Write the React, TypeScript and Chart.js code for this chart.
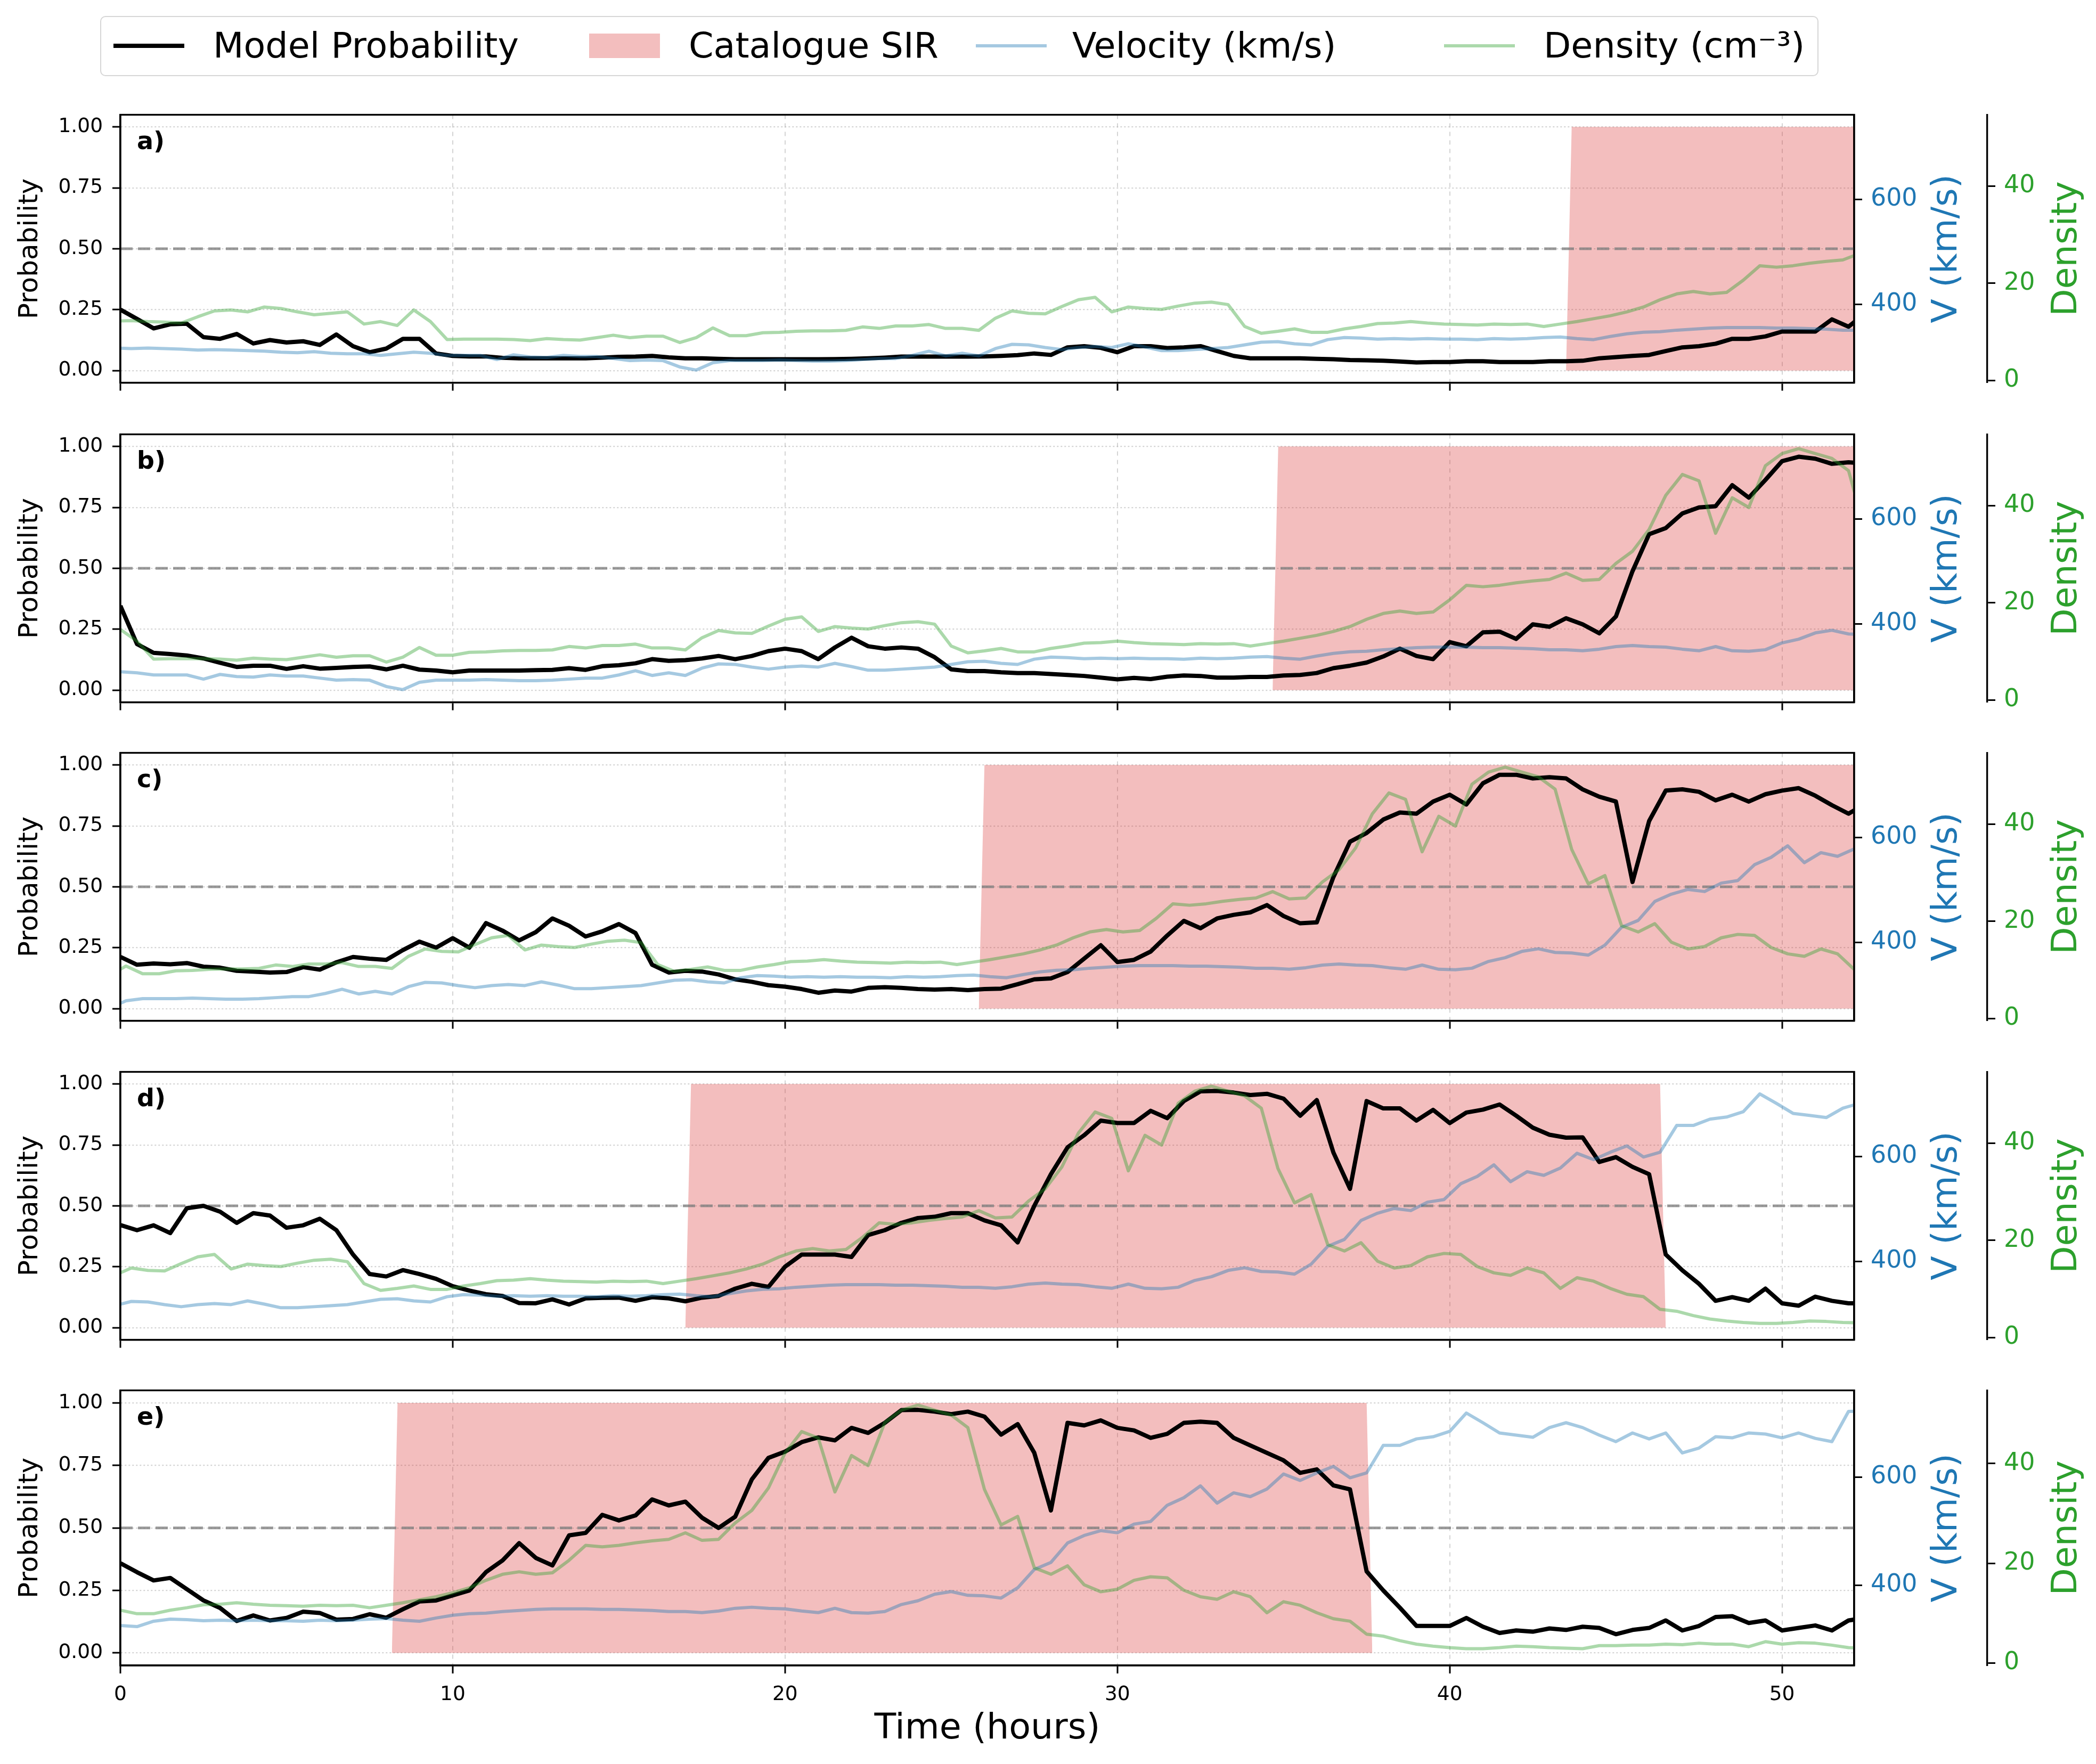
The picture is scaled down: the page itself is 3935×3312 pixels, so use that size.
import React, { useEffect, useRef } from "react";
import { Chart, registerables } from "chart.js";

Chart.register(...registerables);

const FONT = '"DejaVu Sans", "Liberation Sans", sans-serif';

// ---------------- data ----------------
const PANEL_LABELS = ["a)", "b)", "c)", "d)", "e)"];
// how many hours earlier (relative to panel e) each panel's window begins
const PANEL_SHIFT_HOURS = [35.33, 26.5, 17.67, 8.83, 0];
const X_MAX_HOURS = 52.17;
const X_TICKS = [0, 10, 20, 30, 40, 50];
const PROB_TICKS = [0, 0.25, 0.5, 0.75, 1];
const VEL_TICKS = [400, 600];
const DENS_TICKS = [0, 20, 40];
const THRESHOLD = 0.5;
const PROB_RANGE = [-0.05, 1.05];
const VEL_RANGE = [251, 761];
const DENS_RANGE = [-0.47, 54.66];

// model probability, one value every 0.5 h from t = 0 h
const PROB_STEP_HOURS = 0.5;
const PROB_A = [
  0.25, 0.212, 0.173, 0.19, 0.192, 0.137, 0.13, 0.15, 0.111, 0.125,
  0.115, 0.12, 0.105, 0.148, 0.1, 0.075, 0.09, 0.13, 0.13, 0.07,
  0.06, 0.058, 0.058, 0.052, 0.05, 0.05, 0.05, 0.05, 0.05, 0.053,
  0.056, 0.057, 0.06, 0.054, 0.05, 0.05, 0.048, 0.046, 0.046, 0.046,
  0.046, 0.046, 0.046, 0.047, 0.048, 0.05, 0.053, 0.057, 0.057, 0.057,
  0.057, 0.057, 0.058, 0.06, 0.063, 0.07, 0.064, 0.095, 0.1, 0.093,
  0.075, 0.1, 0.1, 0.092, 0.095, 0.1, 0.08, 0.06, 0.05, 0.05,
  0.05, 0.05, 0.048, 0.046, 0.043, 0.042, 0.04, 0.037, 0.033, 0.035,
  0.035, 0.038, 0.038, 0.035, 0.035, 0.035, 0.038, 0.038, 0.04, 0.05,
  0.055, 0.06, 0.064, 0.08, 0.095, 0.1, 0.11, 0.13, 0.13, 0.14,
  0.16, 0.16, 0.16, 0.21, 0.18, 0.235,
];
const PROB_B = [
  0.346, 0.189, 0.153, 0.148, 0.142, 0.13, 0.112, 0.095, 0.1, 0.1,
  0.087, 0.098, 0.088, 0.091, 0.095, 0.097, 0.085, 0.1, 0.084, 0.08,
  0.073, 0.08, 0.08, 0.08, 0.08, 0.082, 0.083, 0.09, 0.083, 0.098,
  0.102, 0.11, 0.127, 0.12, 0.123, 0.13, 0.14, 0.127, 0.14, 0.16,
  0.17, 0.16, 0.127, 0.175, 0.215, 0.18, 0.17, 0.175, 0.17, 0.135,
  0.085, 0.078, 0.078, 0.073, 0.07, 0.07, 0.066, 0.062, 0.058, 0.051,
  0.044, 0.05, 0.045, 0.055, 0.06, 0.058, 0.051, 0.051, 0.054, 0.054,
  0.06, 0.062, 0.07, 0.09, 0.1, 0.113, 0.138, 0.17, 0.14, 0.127,
  0.197, 0.18, 0.237, 0.24, 0.21, 0.27, 0.26, 0.295, 0.27, 0.233,
  0.302, 0.488, 0.64, 0.665, 0.725, 0.75, 0.755, 0.841, 0.79, 0.863,
  0.94, 0.958, 0.95, 0.929, 0.935, 0.93,
];
const PROB_C = [
  0.212, 0.18, 0.185, 0.182, 0.187, 0.172, 0.168, 0.155, 0.152, 0.148,
  0.15, 0.17, 0.16, 0.19, 0.212, 0.205, 0.2, 0.24, 0.275, 0.25,
  0.289, 0.25, 0.351, 0.32, 0.28, 0.314, 0.37, 0.34, 0.296, 0.317,
  0.347, 0.31, 0.18, 0.148, 0.155, 0.152, 0.14, 0.12, 0.11, 0.096,
  0.09, 0.08, 0.065, 0.074, 0.07, 0.085, 0.088, 0.085, 0.08, 0.078,
  0.08, 0.076, 0.08, 0.082, 0.1, 0.12, 0.124, 0.15, 0.205, 0.26,
  0.191, 0.2, 0.234, 0.3, 0.36, 0.33, 0.37, 0.385, 0.395, 0.425,
  0.38, 0.35, 0.354, 0.54, 0.685, 0.721, 0.776, 0.805, 0.8, 0.85,
  0.878, 0.838, 0.925, 0.96, 0.96, 0.945, 0.95, 0.945, 0.9, 0.87,
  0.85, 0.52, 0.77, 0.895, 0.9, 0.89, 0.855, 0.878, 0.85, 0.88,
  0.895, 0.905, 0.874, 0.835, 0.8, 0.84,
];
const PROB_D = [
  0.421, 0.4, 0.42, 0.388, 0.49, 0.5, 0.476, 0.43, 0.47, 0.46,
  0.41, 0.42, 0.447, 0.4, 0.3, 0.22, 0.21, 0.236, 0.22, 0.2,
  0.17, 0.152, 0.137, 0.13, 0.101, 0.1, 0.116, 0.095, 0.12, 0.122,
  0.123, 0.11, 0.125, 0.12, 0.108, 0.123, 0.13, 0.16, 0.18, 0.167,
  0.25, 0.3, 0.3, 0.3, 0.29, 0.38, 0.4, 0.43, 0.45, 0.455,
  0.47, 0.47, 0.44, 0.42, 0.35, 0.5, 0.63, 0.74, 0.79, 0.85,
  0.84, 0.84, 0.89, 0.86, 0.93, 0.97, 0.972, 0.965, 0.955, 0.96,
  0.94, 0.87, 0.934, 0.719, 0.57, 0.93, 0.9, 0.9, 0.85, 0.894,
  0.84, 0.883, 0.895, 0.916, 0.87, 0.821, 0.792, 0.78, 0.781, 0.68,
  0.7, 0.66, 0.63, 0.3, 0.235, 0.18, 0.11, 0.125, 0.11, 0.16,
  0.1, 0.09, 0.127, 0.11, 0.1, 0.1,
];
const PROB_E = [
  0.359, 0.323, 0.29, 0.3, 0.255, 0.21, 0.18, 0.128, 0.15, 0.13,
  0.14, 0.165, 0.16, 0.133, 0.136, 0.155, 0.141, 0.175, 0.206, 0.21,
  0.23, 0.25, 0.323, 0.37, 0.439, 0.38, 0.35, 0.47, 0.48, 0.552,
  0.53, 0.55, 0.614, 0.59, 0.605, 0.541, 0.5, 0.545, 0.694, 0.78,
  0.805, 0.843, 0.862, 0.85, 0.9, 0.88, 0.92, 0.971, 0.972, 0.965,
  0.955, 0.965, 0.945, 0.873, 0.915, 0.8, 0.57, 0.92, 0.91, 0.93,
  0.9, 0.89, 0.86, 0.876, 0.92, 0.925, 0.92, 0.86, 0.83, 0.8,
  0.77, 0.72, 0.734, 0.67, 0.654, 0.326, 0.25, 0.181, 0.108, 0.108,
  0.108, 0.14, 0.105, 0.08, 0.09, 0.085, 0.098, 0.092, 0.105, 0.1,
  0.075, 0.092, 0.1, 0.13, 0.09, 0.108, 0.144, 0.147, 0.12, 0.13,
  0.09, 0.1, 0.11, 0.09, 0.13, 0.14,
];
const PROBS = [PROB_A, PROB_B, PROB_C, PROB_D, PROB_E];

// solar wind, one value every 0.5 h, in panel-e time starting at -35.5 h
const SW_START_HOURS = -35.5;
const SW_STEP_HOURS = 0.5;
const VELOCITY = [
  317, 316, 317, 316, 315, 313, 314, 313, 312, 311, 309, 308, 310, 307, 306, 306, 303, 306,
  309, 307, 303, 303, 303, 295, 304, 300, 299, 303, 301, 301, 297, 293, 294, 293, 281, 275,
  289, 293, 293, 293, 294, 293, 292, 292, 293, 295, 297, 297, 303, 311, 302, 307, 302, 316,
  324, 323, 318, 314, 318, 320, 318, 325, 319, 312, 312, 314, 316, 318, 323, 328, 329,
  325, 323, 333, 337, 336, 334, 335, 334, 335, 334, 334, 333, 335, 334, 335, 337, 338, 335,
  333, 339, 344, 347, 348, 351, 353, 355, 356, 356, 356, 355, 355, 354, 353, 351, 351, 349, 352,
  357, 359, 357, 356, 352, 349, 357, 349, 348, 351, 364, 371, 383, 388, 381, 380, 376, 395,
  429, 442, 478, 492, 501, 497, 513, 518, 548, 562, 584, 552, 571, 564, 578, 606, 594, 608,
  620, 599, 608, 659, 659, 671, 675, 685, 719, 701, 682, 678, 674, 692, 701, 692, 678, 666,
  682, 671, 682, 645, 654, 675, 673, 682, 680, 673, 682, 672, 666, 722, 723,
];
const DENSITY = [
  12.2, 12.3, 12.1, 12.0, 11.8, 13.1, 14.3, 14.5, 14.1, 15.1, 14.8, 14.1, 13.5, 13.8, 14.1, 11.6, 12.1, 11.3,
  14.5, 12.1, 8.4, 8.5, 8.5, 8.5, 8.4, 8.2, 8.6, 8.4, 8.3, 8.8, 9.3, 8.8, 9.1, 9.1, 7.8, 8.8,
  10.8, 9.2, 9.2, 9.8, 9.9, 10.1, 10.2, 10.2, 10.3, 11.0, 10.7, 11.2, 11.2, 11.5, 10.7, 10.7, 10.3, 12.8,
  14.3, 13.8, 13.7, 15.2, 16.6, 17.1, 14.1, 15.1, 14.8, 14.6, 15.3, 15.9, 16.1, 15.6, 11.1, 9.7, 10.1,
  10.6, 9.9, 9.9, 10.6, 11.1, 11.7, 11.8, 12.1, 11.8, 11.6, 11.5, 11.4, 11.6, 11.5, 11.6, 11.1, 11.6, 12.1,
  12.7, 13.3, 14.1, 15.1, 16.6, 17.8, 18.3, 17.8, 18.1, 20.6, 23.6, 23.3, 23.6, 24.1, 24.5, 24.8, 26.1, 24.6, 24.8,
  28.1, 30.6, 35.1, 42.1, 46.4, 45.1, 34.3, 41.6, 39.6, 48.2, 50.7, 51.7, 50.7, 49.7, 47.2, 34.8, 27.7, 29.4,
  19.1, 17.8, 19.5, 15.7, 14.3, 14.8, 16.6, 17.3, 17.1, 14.6, 13.3, 12.8, 14.3, 13.3, 10.1, 12.3, 11.6, 10.1,
  8.9, 8.4, 5.8, 5.4, 4.5, 3.8, 3.4, 3.1, 2.9, 2.9, 3.1, 3.4, 3.3, 3.1, 3.0, 2.9, 3.5, 3.5,
  3.6, 3.6, 3.8, 3.7, 4.0, 3.8, 3.8, 3.3, 4.3, 3.8, 4.1, 4.0, 3.6, 3.1, 3.0,
];

// catalogue SIR interval per panel (hours); 60 = continues past the window
const SIR_START = [43.5, 34.67, 25.83, 17.0, 8.17];
const SIR_END = [60, 60, 60, 46.33, 37.5];
const SIR_RAMP_HOURS = 0.17;

// ---------------- layout ----------------
const FIG_W = 3935;
const FIG_H = 3312;
const PANEL_TOPS = [212, 812, 1410, 2009, 2607];
const PLOT_H = 520;
const PLOT_LEFT = 226;
const PAD_TOP = 40;
const V_AXIS_W = 250;
const D_AXIS_W = FIG_W - PLOT_LEFT - 3255 - V_AXIS_W; // plot right at 3481

const BLUE = "#1f77b4";
const GREEN = "#2ca02c";
const BLUE_LINE = "rgba(31,119,180,0.4)";
const GREEN_LINE = "rgba(44,160,44,0.4)";
const SIR_FILL = "rgba(214,39,40,0.3)";
const GRID = "rgba(176,176,176,0.55)";

function Panel({ index }: { index: number }) {
  const ref = useRef<HTMLCanvasElement>(null);
  const isBottom = index === PANEL_LABELS.length - 1;
  const bottomH = isBottom ? FIG_H - (PANEL_TOPS[index] + PLOT_H) : 30;
  const canvasH = PAD_TOP + PLOT_H + bottomH;

  useEffect(() => {
    const canvas = ref.current;
    if (!canvas) return;
    const shift = PANEL_SHIFT_HOURS[index];
    const swPts = (arr: number[]) =>
      arr
        .map((v, i) => ({ x: SW_START_HOURS + i * SW_STEP_HOURS + shift, y: v }))
        .filter((p) => p.x >= -1 && p.x <= X_MAX_HOURS + 1);
    const probPts = PROBS[index].map((v, i) => ({ x: i * PROB_STEP_HOURS, y: v }));
    const s0 = SIR_START[index];
    const s1 = SIR_END[index];
    const sirPts = [
      { x: s0, y: 0 },
      { x: s0 + SIR_RAMP_HOURS, y: 1 },
      { x: s1, y: 1 },
      { x: s1 + SIR_RAMP_HOURS, y: 0 },
    ];

    const textPlugin = {
      id: "panelText" + index,
      afterDraw(chart: any) {
        const { ctx, chartArea: a } = chart;
        ctx.save();
        ctx.strokeStyle = "#000";
        ctx.lineWidth = 3.3;
        ctx.strokeRect(a.left, a.top, a.right - a.left, a.bottom - a.top);
        ctx.fillStyle = "#000";
        ctx.font = `bold 46px ${FONT}`;
        ctx.textAlign = "left";
        ctx.textBaseline = "alphabetic";
        ctx.fillText(PANEL_LABELS[index], a.left + 31, a.top + 65);
        const midY = (a.top + a.bottom) / 2;
        const rot = (text: string, x: number, color: string, size: number) => {
          ctx.save();
          ctx.translate(x, midY);
          ctx.rotate(-Math.PI / 2);
          ctx.font = `${size}px ${FONT}`;
          ctx.fillStyle = color;
          ctx.textAlign = "center";
          ctx.textBaseline = "alphabetic";
          ctx.fillText(text, 0, 0);
          ctx.restore();
        };
        rot("Probability", 70, "#000", 50);
        rot("V (km/s)", 3673, BLUE, 66.7);
        rot("Density", 3898, GREEN, 66.7);
        if (isBottom) {
          ctx.font = `66.7px ${FONT}`;
          ctx.fillStyle = "#000";
          ctx.textAlign = "center";
          ctx.fillText("Time (hours)", (a.left + a.right) / 2, a.bottom + 137);
        }
        ctx.restore();
      },
    };

    const tickFont = { family: FONT, size: 37.5 };
    const rightFont = { family: FONT, size: 45.8 };

    const chart = new Chart(canvas, {
      type: "line",
      data: {
        datasets: [
          {
            label: "Density (cm⁻³)",
            data: swPts(DENSITY),
            yAxisID: "yD",
            borderColor: GREEN_LINE,
            borderWidth: 6,
            pointRadius: 0,
            tension: 0,
            borderJoinStyle: "round",
            clip: 0,
            order: 0,
          },
          {
            label: "Velocity (km/s)",
            data: swPts(VELOCITY),
            yAxisID: "yV",
            borderColor: BLUE_LINE,
            borderWidth: 6,
            pointRadius: 0,
            tension: 0,
            borderJoinStyle: "round",
            clip: 0,
            order: 1,
          },
          {
            label: "Model Probability",
            data: probPts,
            yAxisID: "y",
            borderColor: "#000",
            borderWidth: 8,
            pointRadius: 0,
            tension: 0,
            borderJoinStyle: "round",
            clip: 0,
            order: 2,
          },
          {
            label: "threshold",
            data: [
              { x: 0, y: THRESHOLD },
              { x: X_MAX_HOURS, y: THRESHOLD },
            ],
            yAxisID: "y",
            borderColor: "rgba(128,128,128,0.8)",
            borderWidth: 5,
            borderDash: [23, 10],
            pointRadius: 0,
            clip: 0,
            order: 3,
          },
          {
            label: "Catalogue SIR",
            data: sirPts,
            yAxisID: "y",
            borderWidth: 0,
            borderColor: "rgba(0,0,0,0)",
            backgroundColor: SIR_FILL,
            fill: "origin",
            pointRadius: 0,
            tension: 0,
            clip: 0,
            order: 4,
          },
        ],
      },
      options: {
        responsive: false,
        animation: false,
        devicePixelRatio: 1,
        events: [],
        layout: { padding: { top: PAD_TOP, left: 0, right: 0, bottom: 0 } },
        plugins: { legend: { display: false }, tooltip: { enabled: false } },
        scales: {
          x: {
            type: "linear",
            position: "bottom",
            min: 0,
            max: X_MAX_HOURS,
            afterBuildTicks: (s: any) => {
              s.ticks = X_TICKS.map((v) => ({ value: v }));
            },
            afterFit: (s: any) => {
              s.height = bottomH;
            },
            ticks: {
              autoSkip: false,
              maxRotation: 0,
              font: tickFont,
              color: "#000",
              padding: 18,
              callback: (v: any) => (isBottom ? String(v) : ""),
            },
            grid: {
              color: GRID,
              lineWidth: 2,
              tickLength: 15,
              tickColor: "#000",
              tickWidth: 3,
            },
            border: { display: true, color: "#000", width: 3.3, dash: [8, 8] },
          },
          y: {
            type: "linear",
            position: "left",
            min: PROB_RANGE[0],
            max: PROB_RANGE[1],
            afterBuildTicks: (s: any) => {
              s.ticks = PROB_TICKS.map((v) => ({ value: v }));
            },
            afterFit: (s: any) => {
              s.width = PLOT_LEFT;
            },
            ticks: {
              font: tickFont,
              color: "#000",
              padding: 18,
              callback: (v: any) => Number(v).toFixed(2),
            },
            grid: {
              color: GRID,
              lineWidth: 2.2,
              tickLength: 15,
              tickColor: "#000",
              tickWidth: 3,
            },
            border: { display: true, color: "#000", width: 3.3, dash: [3, 4] },
          },
          yV: {
            type: "linear",
            position: "right",
            min: VEL_RANGE[0],
            max: VEL_RANGE[1],
            afterBuildTicks: (s: any) => {
              s.ticks = VEL_TICKS.map((v) => ({ value: v }));
            },
            afterFit: (s: any) => {
              s.width = V_AXIS_W;
            },
            ticks: { font: rightFont, color: BLUE, padding: 16 },
            grid: {
              drawOnChartArea: false,
              tickLength: 15,
              tickColor: "#000",
              tickWidth: 3,
            },
            border: { display: true, color: "#000", width: 3.3 },
          },
          yD: {
            type: "linear",
            position: "right",
            min: DENS_RANGE[0],
            max: DENS_RANGE[1],
            afterBuildTicks: (s: any) => {
              s.ticks = DENS_TICKS.map((v) => ({ value: v }));
            },
            afterFit: (s: any) => {
              s.width = D_AXIS_W;
            },
            ticks: { font: rightFont, color: GREEN, padding: 16 },
            grid: {
              drawOnChartArea: false,
              tickLength: 15,
              tickColor: "#000",
              tickWidth: 3,
            },
            border: { display: true, color: "#000", width: 3.3 },
          },
        },
      } as any,
      plugins: [textPlugin],
    });
    return () => chart.destroy();
  }, [index, isBottom, bottomH]);

  return (
    <canvas
      ref={ref}
      width={FIG_W}
      height={canvasH}
      style={{
        position: "absolute",
        left: 0,
        top: PANEL_TOPS[index] - PAD_TOP,
        width: FIG_W,
        height: canvasH,
        display: "block",
      }}
    />
  );
}

const LEGEND_ITEMS = [
  { label: "Model Probability", kind: "line", color: "#000", width: 8, x: 213, tx: 400 },
  { label: "Catalogue SIR", kind: "patch", color: SIR_FILL, width: 0, x: 1106, tx: 1293 },
  { label: "Velocity (km/s)", kind: "line", color: BLUE_LINE, width: 6, x: 1832, tx: 2013 },
  { label: "Density (cm⁻³)", kind: "line", color: GREEN_LINE, width: 6, x: 2711, tx: 2898 },
];

function Legend() {
  return (
    <div style={{ position: "absolute", left: 0, top: 0, width: FIG_W, height: 160 }}>
      <div
        style={{
          position: "absolute",
          left: 188,
          top: 30,
          width: 3226,
          height: 113,
          border: "2.5px solid #d6d6d6",
          borderRadius: 10,
          boxSizing: "border-box",
          background: "#fff",
        }}
      />
      {LEGEND_ITEMS.map((it) => (
        <React.Fragment key={it.label}>
          {it.kind === "line" ? (
            <div
              style={{
                position: "absolute",
                left: it.x,
                top: 86 - it.width / 2,
                width: 133,
                height: it.width,
                background: it.color,
              }}
            />
          ) : (
            <div
              style={{
                position: "absolute",
                left: it.x,
                top: 63,
                width: 133,
                height: 46,
                background: it.color,
              }}
            />
          )}
          <span
            style={{
              position: "absolute",
              left: it.tx,
              top: 52,
              fontFamily: FONT,
              fontSize: 66.7,
              lineHeight: 1,
              whiteSpace: "nowrap",
              color: "#000",
            }}
          >
            {it.label}
          </span>
        </React.Fragment>
      ))}
    </div>
  );
}

export default function App() {
  return (
    <div
      style={{
        position: "absolute",
        left: 0,
        top: 0,
        width: FIG_W,
        height: FIG_H,
        background: "#fff",
        overflow: "hidden",
      }}
    >
      <Legend />
      {PANEL_LABELS.map((_, i) => (
        <Panel key={i} index={i} />
      ))}
    </div>
  );
}
